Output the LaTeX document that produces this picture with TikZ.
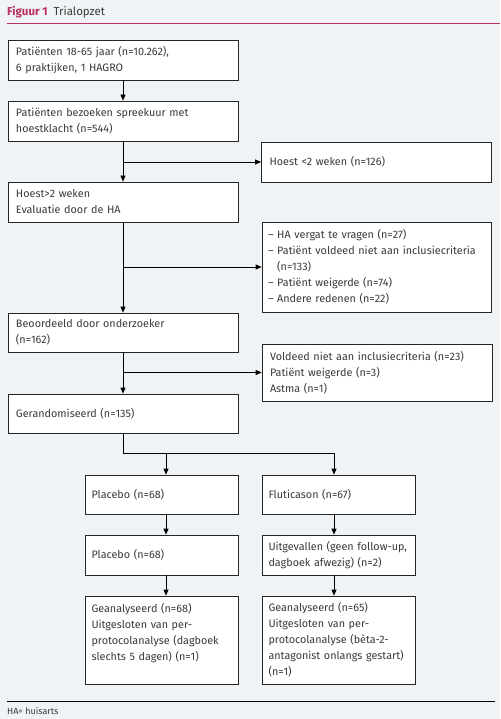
\documentclass[tikz,border=0pt]{standalone}
\usepackage{fontspec}
\setmainfont{Fira Sans}
\usetikzlibrary{arrows.meta,calc}
\definecolor{bg}{HTML}{F0F3F5}
\definecolor{figred}{HTML}{B8305F}
\definecolor{txt}{HTML}{3A3A3A}
\begin{document}
\begin{tikzpicture}[x=1pt,y=-1pt,
  box/.style={draw=black!85, fill=white, line width=0.7pt, align=left, inner xsep=8pt, inner ysep=0pt, font=\fontsize{10.8}{16}\selectfont, text=txt},
  wide/.style={minimum width=230pt, text width=214pt},
  narrow/.style={minimum width=153pt, text width=141pt, inner xsep=6pt},
  arr/.style={draw=black, line width=0.7pt, -{Triangle[length=6pt,width=5pt]}},
  ln/.style={draw=black, line width=0.7pt}]
\fill[bg] (0,0) rectangle (500,719);
\useasboundingbox (0,0) rectangle (500,719);
% header
\node[anchor=base west, font=\fontsize{11.5}{13}\selectfont, inner sep=0pt, text=txt] (title) at (7,16) {\textcolor{figred}{\bfseries Figuur 1}\enspace Trialopzet};
\draw[figred, line width=0.8pt] (7,23) -- (500,23);
% main column
\node[box, wide, minimum height=40pt] (b1) at (123,60) {Patiënten 18-65 jaar (n=10.262),\\6 praktijken, 1 HAGRO};
\node[box, wide, minimum height=40pt] (b2) at (123,121) {Patiënten bezoeken spreekuur met\\hoestklacht (n=544)};
\node[box, wide, minimum height=40pt] (b3) at (123,202) {Hoest>2 weken\\Evaluatie door de HA};
\node[box, wide, minimum height=39pt] (b4) at (123,332.5) {Beoordeeld door onderzoeker\\(n=162)};
\node[box, wide, minimum height=39pt] (b5) at (123,413.5) {Gerandomiseerd (n=135)};
% right column
\node[box, wide, minimum height=40pt] (r1) at (376.5,162) {Hoest <2 weken (n=126)};
\node[box, minimum width=229pt, text width=217pt, inner xsep=6pt, minimum height=90pt] (r2) at (376.5,267) {– HA vergat te vragen (n=27)\\– Patiënt voldeed niet aan inclusiecriteria\\\hphantom{– }(n=133)\\– Patiënt weigerde (n=74)\\– Andere redenen (n=22)};
\node[box, wide, minimum height=57pt] (r3) at (377,372.5) {Voldeed niet aan inclusiecriteria (n=23)\\Patiënt weigerde (n=3)\\Astma (n=1)};
% arms
\node[box, narrow, minimum height=39pt] (p1) at (162,494.5) {Placebo (n=68)};
\node[box, narrow, minimum height=40pt] (p2) at (162,555) {Placebo (n=68)};
\node[box, narrow, minimum height=88pt] (p3) at (162,640) {Geanalyseerd (n=68)\\Uitgesloten van per-\\protocolanalyse (dagboek\\slechts 5 dagen) (n=1)\\~};
\node[box, narrow, minimum height=39pt] (f1) at (339,494.5) {Fluticason (n=67)};
\node[box, narrow, minimum height=40pt] (f2) at (339,555) {Uitgevallen (geen follow-up,\\dagboek afwezig) (n=2)};
\node[box, narrow, minimum height=88pt] (f3) at (339,640) {Geanalyseerd (n=65)\\Uitgesloten van per-\\protocolanalyse (bèta-2-\\antagonist onlangs gestart)\\(n=1)};
% connectors
\draw[arr] (b1) -- (b2);
\draw[arr] (b2) -- (b3);
\draw[arr] (b2.south |- r1.west) -- (r1.west);
\draw[arr] (b3) -- (b4);
\draw[arr] (b3.south |- r2.west) -- (r2.west);
\draw[arr] (b4) -- (b5);
\draw[arr] (b4.south |- r3.west) -- (r3.west);
\coordinate (split) at (123,453);
\coordinate (sl) at (166,453);
\coordinate (sr) at (334,453);
\draw[ln] (b5.south) -- (split) -- (sr);
\draw[arr] (sl) -- (sl |- p1.north);
\draw[arr] (sr) -- (sr |- f1.north);
\draw[arr] (sl |- p1.south) -- (sl |- p2.north);
\draw[arr] (sl |- p2.south) -- (sl |- p3.north);
\draw[arr] (sr |- f1.south) -- (sr |- f2.north);
\draw[arr] (sr |- f2.south) -- (sr |- f3.north);
% footer
\draw[black, line width=0.8pt] (7,701) -- (495,701);
\node[anchor=base west, font=\fontsize{9}{11}\selectfont, inner sep=0pt, text=txt] (foot) at (7,714) {HA= huisarts};
\end{tikzpicture}
\end{document}
